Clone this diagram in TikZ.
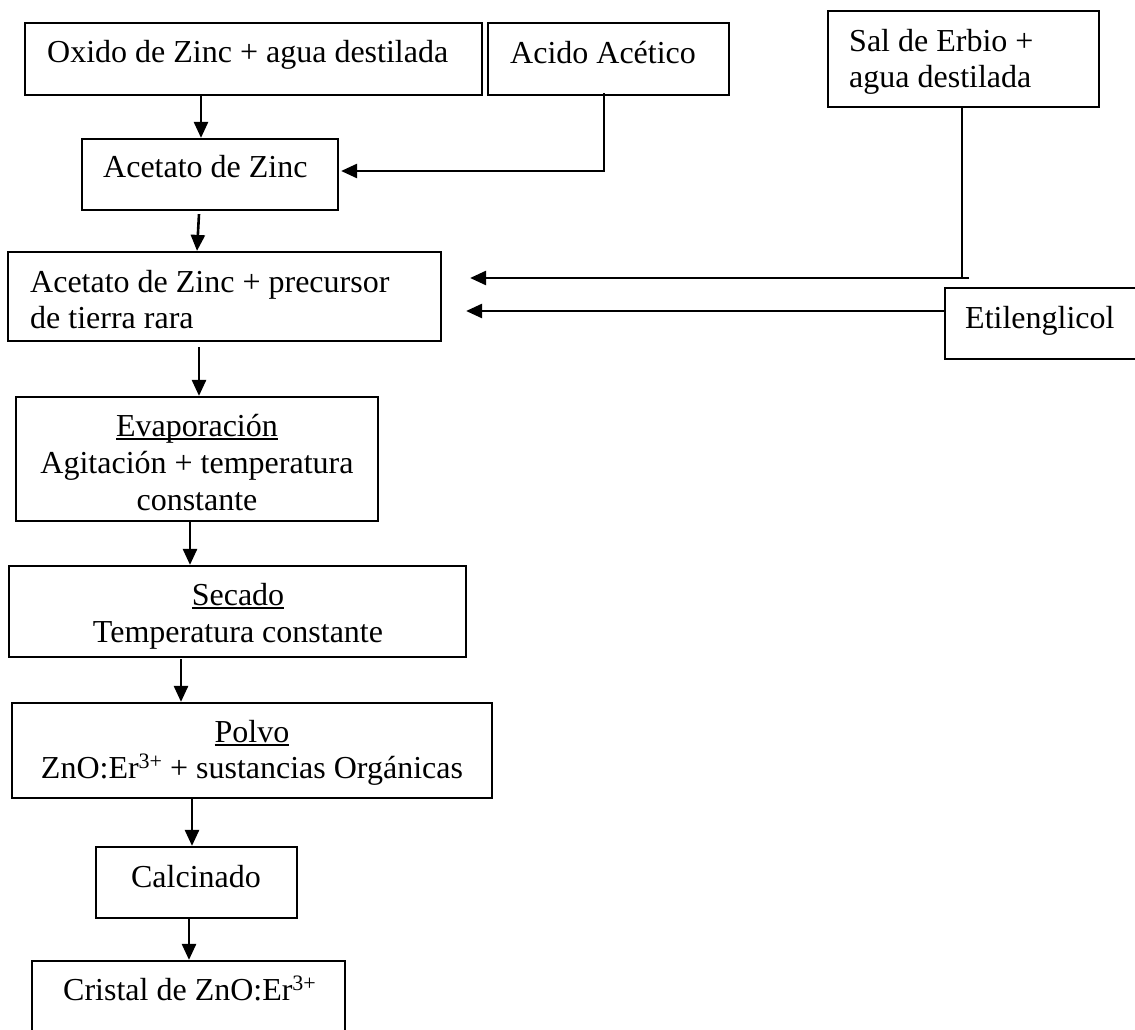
\documentclass[tikz,border=0pt]{standalone}
\usepackage{fontspec}
\setmainfont{Liberation Serif}
\usetikzlibrary{arrows.meta}
\newsavebox\ulbox
\newcommand\ulword[1]{\sbox\ulbox{#1}\rlap{\rule[-4pt]{\wd\ulbox}{1.8pt}}\usebox\ulbox}
\newcommand\supthree{\raisebox{10pt}{\fontsize{22}{22}\selectfont 3+}}
\begin{document}
\begin{tikzpicture}[x=1pt,y=-1pt,
  every node/.style={font=\fontsize{32}{37}\selectfont},
  box/.style={draw,line width=2.2pt,inner sep=0pt},
  txt/.style={inner sep=0pt,anchor=base west},
  ctxt/.style={inner sep=0pt,anchor=base},
  arr/.style={line width=2.6pt,-{Triangle[length=16pt,width=14pt]}},
  conn/.style={line width=2.6pt}]
\useasboundingbox (0,0) rectangle (1135,1030);
% boxes
\node[box,minimum width=457pt,minimum height=72pt] (ox) at (253.5,59) {};
\node[box,minimum width=241pt,minimum height=72pt] (ac) at (608.5,59) {};
\node[box,minimum width=271pt,minimum height=96pt] (sal) at (963.5,59) {};
\node[box,minimum width=256pt,minimum height=71pt] (az) at (210,174.5) {};
\node[box,minimum width=433pt,minimum height=89pt] (mix) at (224.5,296.5) {};
\node[box,minimum width=205pt,minimum height=71pt] (eti) at (1047.5,323.5) {};
\node[box,minimum width=362pt,minimum height=124pt] (evap) at (197,459) {};
\node[box,minimum width=457pt,minimum height=91pt] (sec) at (237.5,611.5) {};
\node[box,minimum width=480pt,minimum height=95pt] (pol) at (252,750.5) {};
\node[box,minimum width=201pt,minimum height=71pt] (cal) at (196.5,882.5) {};
\node[box,minimum width=313pt,minimum height=84pt] (cri) at (188.5,1003) {};
% texts
\node[txt] (t1) at (47,63) {Oxido de Zinc + agua destilada};
\node[txt] (t2) at (510,64) {Acido Acético};
\node[txt] (t3a) at (849,52) {Sal de Erbio +};
\node[txt] (t3b) at (849,88) {agua destilada};
\node[txt] (t4) at (103,178) {Acetato de Zinc};
\node[txt] (t5a) at (30,292) {Acetato de Zinc + precursor};
\node[txt] (t5b) at (30,328) {de tierra rara};
\node[txt] (t6) at (965,328) {Etilenglicol};
\node[ctxt] (t7a) at (197,436) {\ulword{Evaporación}};
\node[ctxt] (t7b) at (197,473) {Agitación + temperatura};
\node[ctxt] (t7c) at (197,510) {constante};
\node[ctxt] (t8a) at (238,605) {\ulword{Secado}};
\node[ctxt] (t8b) at (238,642) {Temperatura constante};
\node[ctxt] (t9a) at (252,742) {\ulword{Polvo}};
\node[ctxt] (t9b) at (252,778) {ZnO:Er\supthree{} + sustancias Orgánicas};
\node[ctxt] (t10) at (196,887) {Calcinado};
\node[txt] (t11) at (63,1000) {Cristal de ZnO:Er\supthree};
% connectors
\draw[arr] ([xshift=-52.5pt]ox.south) -- ([xshift=-9pt]az.north);
\draw[arr] ([xshift=-4.5pt,yshift=3pt]ac.south) |- ([xshift=2pt,yshift=3.5pt]az.east);
\draw[arr] ([xshift=-11pt,yshift=-3pt]az.south) -- ([xshift=-27.5pt]mix.north);
\coordinate (j1) at (962,278);
\draw[conn] ([xshift=-1.5pt]sal.south) -- (j1);
\draw[arr] ([xshift=7pt]j1) -- ([xshift=28pt,yshift=18.5pt]mix.east);
\draw[arr] ([yshift=12.5pt]eti.west) -- ([xshift=24pt,yshift=-14.5pt]mix.east);
\draw[arr] ([xshift=-25.5pt,yshift=-5pt]mix.south) -- ([xshift=2pt]evap.north);
\draw[arr] ([xshift=-7pt]evap.south) -- ([xshift=-47.5pt]sec.north);
\draw[arr] ([xshift=-56.5pt,yshift=-1pt]sec.south) -- ([xshift=-71pt]pol.north);
\draw[arr] ([xshift=-60pt]pol.south) -- ([xshift=-4.5pt]cal.north);
\draw[arr] ([xshift=-7.5pt]cal.south) -- ([xshift=0.5pt]cri.north);
\end{tikzpicture}
\end{document}
